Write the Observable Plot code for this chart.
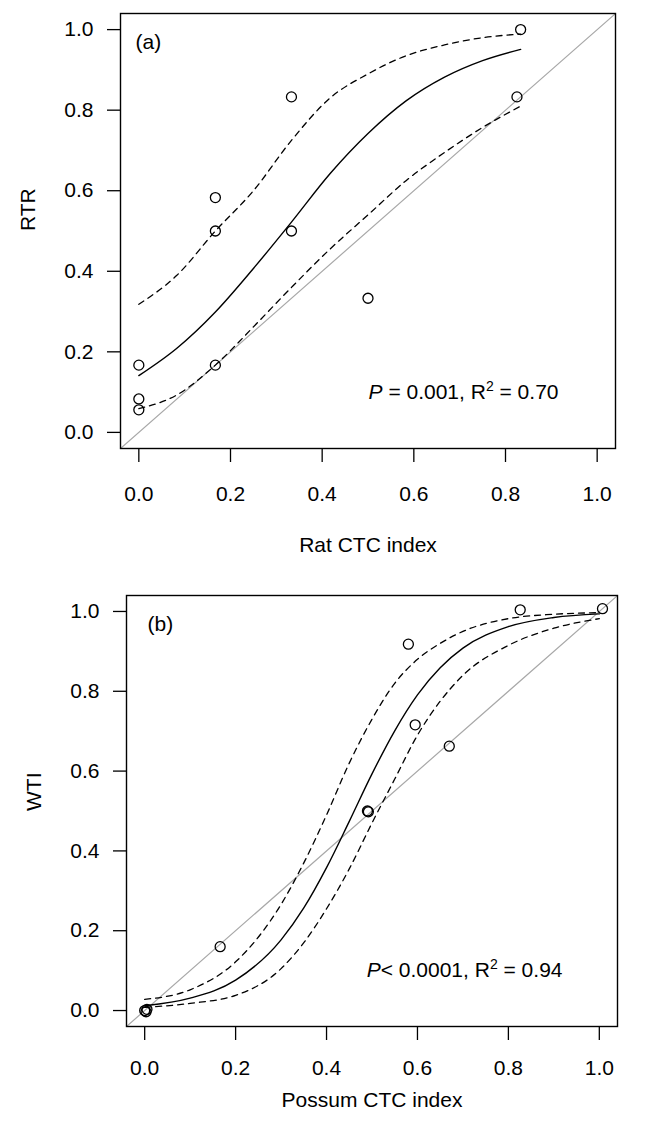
<!DOCTYPE html>
<html><head><meta charset="utf-8">
<script src="https://cdn.jsdelivr.net/npm/d3@7"></script>
<script src="https://cdn.jsdelivr.net/npm/@observablehq/plot@0.6"></script>
<style>
body{margin:0;background:#fff;}
#chart{width:646px;}
#chart svg{display:block;}
</style></head><body><div id="chart"></div>
<script>
// Tick values
const tickVals = [0, 0.2, 0.4, 0.6, 0.8, 1.0];
const axisDomain = [-0.04, 1.04];
const identityLine = [-0.04, 1.04];

// Panel (a): Rat CTC index vs RTR
const ratCTC = [0, 0, 0, 0.167, 0.167, 0.167, 0.333, 0.333, 0.5, 0.825, 0.833];
const rtr    = [0.167, 0.083, 0.056, 0.583, 0.5, 0.167, 0.5, 0.833, 0.333, 0.833, 1.0];
const fitAx    = [0, 0.083, 0.167, 0.25, 0.333, 0.417, 0.5, 0.583, 0.667, 0.75, 0.833];
const fitAy    = [0.141, 0.209, 0.299, 0.407, 0.522, 0.642, 0.742, 0.823, 0.882, 0.923, 0.951];
const upperAy  = [0.318, 0.39, 0.50, 0.60, 0.725, 0.83, 0.89, 0.935, 0.962, 0.98, 0.989];
const lowerAy  = [0.059, 0.093, 0.167, 0.262, 0.36, 0.455, 0.54, 0.625, 0.695, 0.757, 0.81];

// Panel (b): Possum CTC index vs WTI
const possumCTC = [0, 0.003, 0.005, 0.166, 0.49, 0.492, 0.58, 0.595, 0.67, 0.826, 1.007];
const wti       = [0, -0.003, 0.003, 0.16, 0.5, 0.498, 0.918, 0.716, 0.6625, 1.004, 1.007];
const fitBx   = [0, 0.1, 0.2, 0.3, 0.35, 0.4, 0.45, 0.5, 0.55, 0.6, 0.65, 0.7, 0.8, 0.9, 1.0];
const fitBy   = [0.012, 0.031, 0.076, 0.177, 0.257, 0.358, 0.474, 0.593, 0.701, 0.791, 0.859, 0.908, 0.962, 0.985, 0.994];
const upperBy = [0.028, 0.052, 0.122, 0.266, 0.37, 0.49, 0.62, 0.73, 0.82, 0.88, 0.92, 0.95, 0.982, 0.993, 0.997];
const lowerBy = [0.008, 0.018, 0.038, 0.105, 0.17, 0.255, 0.355, 0.47, 0.58, 0.69, 0.775, 0.84, 0.915, 0.958, 0.982];

// Labels
const panelTags = ["(a)", "(b)"];
const xTitles = ["Rat CTC index", "Possum CTC index"];
const yTitles = ["RTR", "WTI"];
const statA = [["P", "i"], [" = 0.001, R", ""], ["2", "sup"], [" = 0.70", "after"]];
const statB = [["P", "i"], ["< 0.0001, R", ""], ["2", "sup"], [" = 0.94", "after"]];

const zip = (xs, ys) => xs.map((x, i) => ({x, y: ys[i]}));
const fmt = d3.format(".1f");

function panel(o) {
  const svg = Plot.plot({
    width: 646, height: o.height,
    marginLeft: o.ml, marginRight: o.mr, marginTop: o.mt, marginBottom: o.mb,
    x: {domain: axisDomain},
    y: {domain: axisDomain},
    style: {fontFamily: "'Liberation Sans', Arial, sans-serif", fontSize: "21px", color: "#000", background: "#fff"},
    marks: [
      Plot.line(identityLine, {x: d => d, y: d => d, stroke: "#a8a8a8", strokeWidth: 1.2, clip: true}),
      Plot.line(zip(o.fx, o.fu), {x: "x", y: "y", curve: "monotone-x", stroke: "#000", strokeWidth: 1.3, strokeDasharray: "6,5"}),
      Plot.line(zip(o.fx, o.fl), {x: "x", y: "y", curve: "monotone-x", stroke: "#000", strokeWidth: 1.3, strokeDasharray: "6,5"}),
      Plot.line(zip(o.fx, o.fy), {x: "x", y: "y", curve: "monotone-x", stroke: "#000", strokeWidth: 1.4}),
      Plot.dot(zip(o.px, o.py), {x: "x", y: "y", r: 5, stroke: "#000", strokeWidth: 1.3, fill: "none"}),
      Plot.frame({stroke: "#000", strokeWidth: 1.4}),
      Plot.axisX({ticks: tickVals, tickFormat: fmt, tickSize: 14, tickPadding: o.xpad, label: null, strokeWidth: 1.3}),
      Plot.axisY({ticks: tickVals, tickFormat: fmt, tickSize: 13, tickPadding: 14, label: null, strokeWidth: 1.3}),
      Plot.text([o.tag], {text: d => d, frameAnchor: "top-left", dx: o.tagdx, dy: 29, textAnchor: "start", lineAnchor: "middle"}),
      Plot.text([o.xlab], {text: d => d, frameAnchor: "bottom", dy: o.xtdy, lineAnchor: "middle"}),
      Plot.text([o.ylab], {text: d => d, frameAnchor: "left", dx: -92, rotate: -90, lineAnchor: "middle"}),
      Plot.text([o.stat.map(p => p[0]).join("")], {text: d => d, frameAnchor: "bottom-right", dx: o.sdx, dy: -56, textAnchor: "end", lineAnchor: "middle", className: "stat"})
    ]
  });
  // rich text for the statistics label
  d3.select(svg).selectAll("g.stat text").each(function() {
    const t = d3.select(this);
    t.text(null);
    for (const [s, kind] of o.stat) {
      const ts = t.append("tspan").text(s);
      if (kind === "i") ts.attr("font-style", "italic");
      if (kind === "sup") ts.attr("font-size", "14px").attr("dy", "-8");
      if (kind === "after") ts.attr("dy", "8");
    }
  });
  return svg;
}

const chart = document.getElementById("chart");
chart.append(panel({
  height: 565, ml: 120, mr: 31, mt: 13, mb: 117, xpad: 24, xtdy: 97, tagdx: 15, sdx: -57,
  px: ratCTC, py: rtr, fx: fitAx, fy: fitAy, fu: upperAy, fl: lowerAy,
  tag: panelTags[0], xlab: xTitles[0], ylab: yTitles[0], stat: statA
}));
chart.append(panel({
  height: 566, ml: 126, mr: 29, mt: 30, mb: 105, xpad: 20, xtdy: 74, tagdx: 21, sdx: -55,
  px: possumCTC, py: wti, fx: fitBx, fy: fitBy, fu: upperBy, fl: lowerBy,
  tag: panelTags[1], xlab: xTitles[1], ylab: yTitles[1], stat: statB
}));
</script>
</body></html>
